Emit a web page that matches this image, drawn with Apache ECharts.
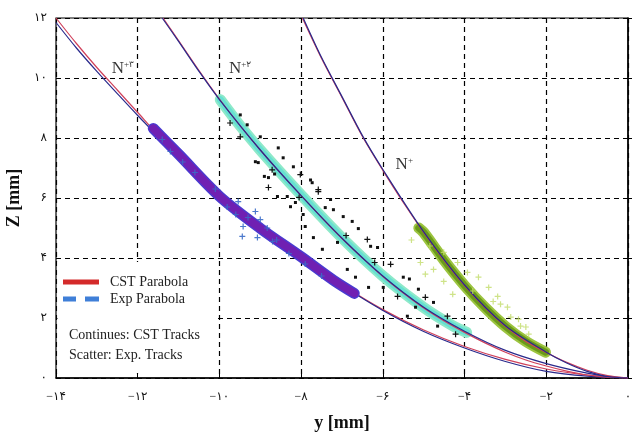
<!DOCTYPE html>
<html>
<head>
<meta charset="utf-8">
<script src="https://cdn.jsdelivr.net/npm/echarts@6/dist/echarts.min.js"></script>
<style>
  html, body { margin: 0; padding: 0; background: #fff; }
  #chart { width: 637px; height: 437px; }
</style>
</head>
<body>
<div id="chart"></div>
<script>
// tick labels (persian digits)
const xTickLabels = ['\u2212۱۴', '\u2212۱۲', '\u2212۱۰', '\u2212۸', '\u2212۶', '\u2212۴', '\u2212۲', '۰']
const yTickLabels = ['۰', '۲', '۴', '۶', '۸', '۱۰', '۱۲']

// parabolas [y, Z]
const n3Cst = [[-14, 12], [-13.5, 11.15], [-13, 10.35], [-12.5, 9.6], [-12, 8.85], [-11.5, 8.1], [-11, 7.4], [-10.5, 6.7], [-10, 6.05], [-9, 4.98], [-8, 4.0], [-7, 3.1], [-6, 2.28], [-5, 1.6], [-4, 1.05], [-3, 0.62], [-2, 0.3], [-1, 0.1], [0, 0]]
const n3Exp = [[-14, 11.85], [-13.5, 11.0], [-13, 10.22], [-12.5, 9.48], [-12, 8.75], [-11.5, 8.05], [-11, 7.35], [-10, 6.0], [-9, 4.95], [-8, 3.98], [-7, 3.08], [-6, 2.25], [-5, 1.55], [-4, 1.0], [-3, 0.55], [-2, 0.22], [-1, 0.06], [0, 0]]
const n2Cst = [[-11.38, 12], [-11, 11.25], [-10.5, 10.25], [-10, 9.3], [-9.5, 8.42], [-9, 7.6], [-8.5, 6.82], [-8, 6.08], [-7.5, 5.35], [-7, 4.65], [-6.5, 4.0], [-6, 3.38], [-5.5, 2.83], [-5, 2.33], [-4.5, 1.9], [-4, 1.52], [-3.5, 1.17], [-3, 0.86], [-2.5, 0.6], [-2, 0.4], [-1.5, 0.23], [-1, 0.1], [-0.5, 0.03], [0, 0]]
const n2Exp = [[-11.4, 12], [-11, 11.22], [-10.5, 10.22], [-10, 9.28], [-9, 7.6], [-8, 6.08], [-7, 4.66], [-6, 3.4], [-5, 2.36], [-4, 1.56], [-3, 0.92], [-2, 0.48], [-1, 0.16], [-0.5, 0.05], [0, 0]]
const n1Cst = [[-7.97, 12], [-7.5, 10.65], [-7, 9.35], [-6.5, 8.05], [-6, 6.92], [-5.5, 5.85], [-5, 4.85], [-4.5, 3.92], [-4, 3.08], [-3.5, 2.35], [-3, 1.72], [-2.5, 1.22], [-2, 0.85], [-1.5, 0.52], [-1, 0.26], [-0.5, 0.08], [0, 0]]
const n1Exp = [[-7.95, 12], [-7.5, 10.68], [-7, 9.38], [-6.5, 8.08], [-6, 6.95], [-5, 4.87], [-4, 3.1], [-3, 1.74], [-2, 0.86], [-1.5, 0.5], [-1, 0.22], [-0.5, 0.05], [0, 0]]

// CST tracks (continuous bands)
const n3Band = [[-11.62, 8.32], [-11, 7.46], [-10, 6.06], [-9, 4.99], [-8, 4.04], [-7.2, 3.25], [-6.7, 2.82]]
const n2Band = [[-9.98, 9.28], [-9.5, 8.42], [-9, 7.6], [-8, 6.1], [-7, 4.67], [-6, 3.4], [-5, 2.35], [-4.3, 1.75], [-3.95, 1.52]]
const n1Band = [[-5.12, 5.0], [-5, 4.85], [-4.5, 3.92], [-4, 3.08], [-3.5, 2.35], [-3, 1.72], [-2.5, 1.22], [-2.02, 0.86]]

// Exp tracks (scatter)
const n3ExpPts = [[-9.81, 5.7], [-9.42, 5.05], [-9.44, 4.72], [-9.12, 5.55], [-9.07, 4.68], [-9.54, 5.88], [-8.83, 5.0], [-9.0, 5.28], [-8.7, 4.55], [-9.6, 5.45], [-10.1, 6.3], [-10.6, 6.85], [-11.2, 7.55], [-11.4, 7.95], [-10.9, 7.2], [-8.3, 4.15], [-7.9, 3.8], [-7.5, 3.4], [-8.6, 4.6], [-9.3, 5.35]]
const n2ExpDots = [[-9.49, 8.77], [-9.32, 8.44], [-9.0, 8.04], [-8.56, 7.67], [-8.44, 7.34], [-9.12, 7.21], [-9.05, 7.18], [-8.19, 7.04], [-8.65, 6.8], [-8.8, 6.68], [-8.9, 6.72], [-7.73, 6.51], [-8.58, 6.05], [-8.34, 6.05], [-8.14, 5.85], [-8.26, 5.71], [-7.28, 5.95], [-7.41, 5.68], [-7.21, 5.61], [-7.95, 5.45], [-7.77, 6.6], [-6.97, 5.38], [-6.75, 5.22], [-6.6, 4.98], [-6.3, 4.39], [-6.13, 4.35], [-7.7, 4.68], [-7.48, 4.29], [-7.9, 5.05], [-7.11, 4.52], [-6.87, 3.62], [-6.67, 3.36], [-6.35, 3.02], [-5.99, 3.02], [-5.5, 3.36], [-5.13, 2.96], [-5.2, 2.36], [-4.76, 2.52], [-5.4, 2.06], [-4.66, 1.73], [-5.35, 3.3]]
const n2ExpCross = [[-9.74, 8.5], [-9.49, 8.04], [-8.71, 6.94], [-8.02, 6.78], [-8.8, 6.35], [-7.58, 6.28], [-7.58, 6.21], [-6.38, 4.62], [-5.81, 3.79], [-5.64, 2.72], [-4.96, 2.69], [-4.42, 2.06], [-4.22, 1.46], [-8.05, 6.02], [-6.9, 4.75], [-6.2, 3.85]]
const n1ExpPts = [[-4.76, 3.62], [-4.51, 3.22], [-4.29, 2.79], [-3.93, 3.52], [-3.66, 3.36], [-3.41, 3.02], [-3.19, 2.72], [-3.12, 2.46], [-2.95, 2.36], [-2.87, 2.03], [-2.68, 1.96], [-2.63, 1.73], [-2.43, 1.46], [-4.17, 3.85], [-4.51, 4.19], [-5.08, 3.85], [-4.96, 3.46], [-3.8, 2.9], [-3.3, 2.55], [-2.5, 1.7], [-5.3, 4.6], [-4.85, 4.4]]

// ion labels
const ionLabels = [
  { name: '+۳', value: [-12.65, 10.3] },
  { name: '+۲', value: [-9.78, 10.3] },
  { name: '+', value: [-5.7, 7.12] }
]

const serif = "'Liberation Serif', 'DejaVu Serif', serif"
const digits = "'Liberation Serif', 'DejaVu Sans', sans-serif"
const crossPath = 'path://M4,0H6V4H10V6H6V10H4V6H0V4H4Z'

const chart = echarts.init(document.getElementById('chart'))

function parabola(name, data, color, width, z) {
  return {
    name: name, type: 'line', data: data, smooth: 0.3,
    symbol: 'none', showSymbol: false, z: z,
    lineStyle: { color: color, width: width },
    emphasis: { disabled: true }, silent: true
  }
}
function band(data, color, width, z) {
  return {
    type: 'line', data: data, smooth: 0.3, symbol: 'none', z: z,
    lineStyle: { color: color, width: width, cap: 'round', join: 'round' },
    emphasis: { disabled: true }, silent: true
  }
}
function pts(data, color, symbol, size, opacity) {
  return {
    type: 'scatter', data: data, symbol: symbol, symbolSize: size, z: 5,
    itemStyle: { color: color, opacity: opacity },
    emphasis: { disabled: true }, silent: true
  }
}

chart.setOption({
  animation: false,
  grid: { left: 56, right: 9, top: 18, bottom: 59, outerBoundsMode: 'none', containLabel: false, show: true, borderColor: '#000', borderWidth: 1.2 },
  legend: {
    left: 58, top: 270, orient: 'vertical',
    itemWidth: 36, itemHeight: 5, itemGap: 3,
    textStyle: { fontFamily: serif, fontSize: 14, color: '#222', padding: [0, 0, 0, 6] },
    data: [
      { name: 'CST Parabola', icon: 'path://M0,0H36V5H0Z', itemStyle: { color: '#d42a2a' } },
      { name: 'Exp Parabola', icon: 'path://M0,0H13V5H0ZM22,0H36V5H22Z', itemStyle: { color: '#3f7fd8' } }
    ]
  },
  xAxis: {
    type: 'value', min: -14, max: 0, interval: 2,
    name: 'y [mm]', nameLocation: 'middle', nameGap: 36,
    nameTextStyle: { fontFamily: serif, fontWeight: 'bold', fontSize: 18, color: '#111' },
    axisLine: { lineStyle: { color: '#000', width: 1.5 } },
    axisTick: { inside: true, length: 4, lineStyle: { color: '#000' } },
    axisLabel: { margin: 13, fontFamily: digits, fontSize: 12, color: '#111',
      formatter: v => xTickLabels[Math.round((v + 14) / 2)] },
    splitLine: { lineStyle: { color: '#000', width: 1.2, type: [5, 4] } }
  },
  yAxis: {
    type: 'value', min: 0, max: 12, interval: 2,
    name: 'Z [mm]', nameLocation: 'middle', nameGap: 31,
    nameTextStyle: { fontFamily: serif, fontWeight: 'bold', fontSize: 18, color: '#111' },
    axisLine: { lineStyle: { color: '#000', width: 1.5 } },
    axisTick: { inside: true, length: 4, lineStyle: { color: '#000' } },
    axisLabel: { margin: 9, fontFamily: digits, fontSize: 12, color: '#111',
      formatter: v => yTickLabels[Math.round(v / 2)] },
    splitLine: { lineStyle: { color: '#000', width: 1.2, type: [5, 4] } }
  },
  graphic: [
    { type: 'rect', left: 57.5, top: 262, shape: { width: 159, height: 111 }, style: { fill: '#fff' }, z: 1 },
    { type: 'text', left: 69, top: 328, z: 6, style: { text: 'Continues: CST Tracks', font: '14px ' + serif, fill: '#222' } },
    { type: 'text', left: 69, top: 348, z: 6, style: { text: 'Scatter: Exp. Tracks', font: '14px ' + serif, fill: '#222' } }
  ],
  series: [
    band(n3Band, '#4a3ad0', 11, 4),
    band(n3Band, '#7020b2', 8, 4),
    band(n2Band, '#8ee9c9', 11, 2),
    band(n2Band, '#66e0d2', 7, 2),
    band(n1Band, '#9cc440', 11, 2),
    band(n1Band, '#6a9a1a', 7, 2),
    pts(n3ExpPts, '#3a6cc8', crossPath, 6, 0.9),
    pts(n2ExpDots, '#111', 'rect', 3, 1),
    pts(n2ExpCross, '#111', crossPath, 6, 1),
    pts(n1ExpPts, '#c2dc6a', crossPath, 6, 0.8),
    parabola('CST Parabola', n3Cst, '#d0405a', 1.2, 3),
    parabola('Exp Parabola', n3Exp, '#2a2a8c', 1.2, 3),
    parabola('CST Parabola', n2Cst, '#d0405a', 1.2, 3),
    parabola('Exp Parabola', n2Exp, '#2a2a8c', 1.2, 3),
    parabola('CST Parabola', n1Cst, '#d0405a', 1.2, 3),
    parabola('Exp Parabola', n1Exp, '#2a2a8c', 1.2, 3),
    {
      type: 'scatter', data: ionLabels, symbolSize: 1, z: 6, silent: true,
      itemStyle: { color: 'rgba(0,0,0,0)' },
      label: {
        show: true, position: 'right', distance: 0, color: '#000',
        formatter: p => '{n|N}{s|' + p.name + '}',
        rich: {
          n: { fontFamily: serif, fontSize: 17, color: '#000' },
          s: { fontFamily: digits, fontSize: 9, color: '#000', verticalAlign: 'top', padding: [0, 0, 8, 0] }
        }
      }
    }
  ]
})

window.addEventListener('resize', () => {
  chart.resize()
})
</script>
</body>
</html>
